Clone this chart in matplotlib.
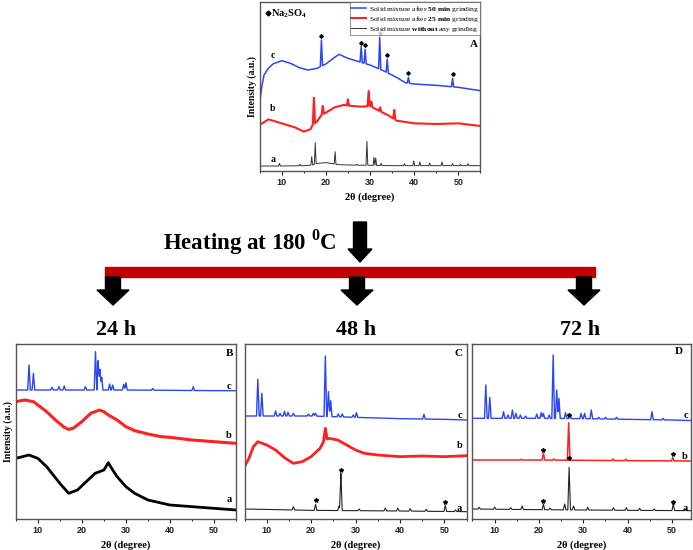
import numpy as np
import matplotlib
matplotlib.use('Agg')
import matplotlib.pyplot as plt
from matplotlib.patches import Polygon, Rectangle
from matplotlib.ticker import MultipleLocator

plt.rcParams['font.family'] = ['Liberation Serif', 'DejaVu Serif']
plt.rcParams['mathtext.fontset'] = 'custom'
plt.rcParams['mathtext.rm'] = 'Liberation Serif'
plt.rcParams['mathtext.bf'] = 'Liberation Serif:bold'

# ---- panel A : solid mixtures before heating (intensity a.u.) ----
A_c_bg_x = [5, 5.5, 6, 7, 8, 10, 12, 14, 16, 18, 20, 22, 23, 25, 27, 30, 33, 36, 38, 40, 45, 50, 55]
A_c_bg_y = [290, 340, 375, 395, 408, 418, 410, 397, 390, 395, 408, 428, 437, 425, 417, 405, 388, 368, 352, 348, 344, 338, 328]
A_c_pk_x = [19.0, 28.0, 28.9, 32.2, 33.9, 38.7, 48.7]
A_c_pk_y = [480, 460, 452, 488, 422, 368, 365]

A_b_bg_x = [5, 7, 10, 13, 15, 16.5, 17, 18, 19, 20, 22, 24, 26, 28, 30, 32, 34, 36, 40, 45, 50, 55]
A_b_bg_y = [225, 242, 230, 218, 205, 212, 225, 235, 255, 262, 278, 285, 282, 280, 282, 268, 255, 238, 230, 228, 230, 222]
A_b_pk_x = [17.3, 19.3, 25.0, 29.7, 30.3, 32.3, 35.5]
A_b_pk_y = [307, 282, 302, 327, 295, 278, 270]

A_a_bg_x = [5, 10, 15, 17, 18, 20, 21, 23, 25, 30, 35, 40, 45, 50, 55]
A_a_bg_y = [102, 102, 103, 105, 110, 112, 110, 106, 105, 104, 103, 103, 103, 103, 103]
A_a_pk_x = [9.5, 14.1, 16.8, 17.6, 22.1, 27.0, 29.3, 30.9, 31.3, 32.5, 37.8, 39.9, 41.3, 43.5, 46.3, 48.7, 50.5, 52.2]
A_a_pk_y = [110, 107, 130, 172, 145, 107, 176, 128, 126, 110, 109, 117, 114, 111, 114, 109, 107, 109]

# ---- panel B : 24 h ----
B_c_bg_x = [5, 10, 20, 30, 40, 50, 55]
B_c_bg_y = [420, 420, 420, 420, 419, 418, 418]
B_c_pk_x = [8.0, 9.0, 13.2, 14.8, 16.0, 20.8, 23.1, 23.7, 24.1, 24.5, 26.3, 27.0, 29.5, 30.0, 36.1, 45.3]
B_c_pk_y = [495, 470, 428, 430, 432, 430, 535, 508, 482, 458, 438, 435, 437, 442, 425, 430]

B_b_bg_x = [5, 7, 9, 10, 12, 14, 16, 17, 18, 20, 22, 24, 25, 26, 28, 30, 32, 35, 38, 40, 45, 50, 55]
B_b_bg_y = [385, 390, 385, 375, 355, 330, 308, 302, 305, 325, 350, 360, 355, 345, 330, 310, 298, 288, 280, 278, 270, 265, 260]

B_a_bg_x = [5, 8, 10, 12, 15, 17, 19, 21, 23, 24, 25, 26, 27, 28, 30, 32, 35, 40, 45, 50, 55]
B_a_bg_y = [215, 225, 215, 190, 140, 110, 120, 145, 170, 175, 180, 202, 180, 160, 130, 110, 90, 75, 70, 65, 60]

# ---- panel C : 48 h ----
C_c_bg_x = [5, 10, 20, 30, 40, 50, 55]
C_c_bg_y = [342, 342, 342, 338, 334, 332, 330]
C_c_pk_x = [8.0, 8.9, 12.0, 13.0, 14.0, 14.8, 16.0, 19.4, 20.5, 21.0, 23.2, 23.9, 24.4, 26.1, 27.0, 29.5, 30.2, 45.4]
C_c_pk_y = [452, 410, 357, 350, 356, 353, 350, 348, 350, 350, 522, 415, 388, 348, 348, 345, 352, 347]

C_b_bg_x = [5, 6, 7, 8, 10, 12, 14, 16, 18, 20, 22, 23, 24, 26, 28, 30, 32, 35, 40, 45, 50, 55]
C_b_bg_y = [190, 215, 250, 265, 255, 240, 217, 200, 205, 220, 245, 270, 275, 270, 255, 240, 230, 225, 220, 222, 220, 223]
C_b_pk_x = [23.2]
C_b_pk_y = [305]

C_a_bg_x = [5, 20, 40, 55]
C_a_bg_y = [63, 59, 57, 55]
C_a_pk_x = [16.0, 21.0, 26.3, 26.7, 30.8, 36.7, 39.5, 42.3, 45.9, 50.2, 52.5]
C_a_pk_y = [70, 77, 72, 170, 63, 66, 66, 64, 62, 74, 60]
C_star_x = [21.0, 26.7, 50.2]
C_star_y = [90, 180, 85]

# ---- panel D : 72 h ----
D_c_bg_x = [5, 10, 20, 30, 40, 50, 55]
D_c_bg_y = [335, 335, 335, 334, 332, 330, 328]
D_c_pk_x = [8.0, 8.9, 12.0, 13.0, 14.0, 14.8, 15.8, 17.0, 19.5, 20.5, 21.0, 22.3, 23.2, 24.0, 24.5,
            26.0, 27.0, 29.5, 30.3, 31.8, 33.5, 35.0, 37.5, 45.5, 48.0]
D_c_pk_y = [435, 398, 355, 345, 360, 350, 345, 342, 348, 352, 350, 345, 525, 420, 395,
            352, 345, 350, 350, 360, 338, 338, 338, 355, 335]

D_b_bg_x = [5, 20, 40, 55]
D_b_bg_y = [210, 210, 208, 207]
D_b_pk_x = [16.0, 21.0, 23.4, 26.7, 36.7, 39.6, 50.2]
D_b_pk_y = [212, 230, 213, 322, 213, 212, 217]
D_b_star_x = [21.0, 26.7, 50.2]
D_b_star_y = [240, 344, 228]

D_a_bg_x = [5, 20, 40, 55]
D_a_bg_y = [63, 61, 59, 58]
D_a_pk_x = [6.5, 10.0, 13.6, 16.2, 21.0, 22.5, 25.8, 26.8, 27.8, 31.0, 36.8, 39.7, 42.7, 46.0, 50.3, 53.0]
D_a_pk_y = [68, 68, 67, 72, 78, 66, 78, 188, 72, 68, 67, 67, 65, 63, 78, 62]
D_a_star_x = [21.0, 26.8, 50.3]
D_a_star_y = [88, 217, 85]

BLUE = '#2b46f5'
RED = '#ff2020'
BLACK = '#000000'
W, H = 693, 550


def pattern(bg_x, bg_y, pk_x=(), pk_y=(), w=0.3):
    # background points plus a sharp triangular peak for each reflection
    pts = set(bg_x)
    for p in pk_x:
        pts.update([p - w, p, p + w])
    xs = np.array(sorted(pts))
    ys = np.interp(xs, bg_x, bg_y)
    for p, top in zip(pk_x, pk_y):
        h = top - np.interp(p, bg_x, bg_y)
        ys = ys + np.clip(h * (1 - np.abs(xs - p) / w), 0, None)
    return xs, ys


def panel(rect_px, xmax=55):
    l, t, r, b = rect_px
    ax = fig.add_axes([l / W, (H - b) / H, (r - l) / W, (b - t) / H])
    ax.set_xlim(5, xmax)
    ax.set_xticks([10, 20, 30, 40, 50])
    ax.xaxis.set_minor_locator(MultipleLocator(5))
    ax.set_yticks([])
    ax.tick_params(axis='x', which='major', direction='out', length=3, width=0.8, pad=2,
                   labelsize=6.5, colors='#222222')
    ax.tick_params(axis='x', which='minor', direction='out', length=1.5, width=0.6)
    for lab in ax.get_xticklabels():
        lab.set_family(['Liberation Sans Narrow', 'Liberation Sans'])
        lab.set_fontweight('bold')
    for s in ax.spines.values():
        s.set_color('#555555')
        s.set_linewidth(1.0)
    ax.set_xlabel('2θ (degree)', fontsize=7.5, fontweight='bold', labelpad=4)
    return ax


fig = plt.figure(figsize=(W / 100, H / 100), dpi=100)

# ---------------- panel A ----------------
axA = panel((259.6, 2, 480.4, 171))
axA.set_ylim(87, 594)
axA.plot(*pattern(A_c_bg_x, A_c_bg_y, A_c_pk_x, A_c_pk_y, 0.25), color=BLUE, lw=1.1,
         label=r'Solid mixture after $\mathbf{50\ min}$ grinding')
axA.plot(*pattern(A_b_bg_x, A_b_bg_y, A_b_pk_x, A_b_pk_y, 0.25), color=RED, lw=1.5,
         label=r'Solid mixture after $\mathbf{25\ min}$ grinding')
axA.plot(*pattern(A_a_bg_x, A_a_bg_y, A_a_pk_x, A_a_pk_y, 0.2), color='#333333', lw=0.7,
         label=r'Solid mixture $\mathbf{without}$ any grinding')
axA.plot(A_c_pk_x, np.array(A_c_pk_y) + 12, ls='none', marker='D', ms=1.8, color='k')
axA.plot([6.9], [560], ls='none', marker='D', ms=2.5, color='k')
axA.text(7.6, 560, r'$\mathbf{Na_2SO_4}$', fontsize=7.5, va='center')
axA.text(7.4, 435, 'c', fontsize=7, fontweight='bold', va='center')
axA.text(7.4, 275, 'b', fontsize=7, fontweight='bold', va='center')
axA.text(7.4, 122, 'a', fontsize=7, fontweight='bold', va='center')
axA.text(54.4, 466, 'A', fontsize=8, fontweight='bold', ha='right', va='center')
axA.set_ylabel('Intensity (a.u.)', fontsize=7, fontweight='bold', labelpad=2)
leg = axA.legend(loc='upper right', bbox_to_anchor=(1.0, 1.0), fontsize=5.4, frameon=True,
                 fancybox=False, borderpad=0.2, labelspacing=0.08, handlelength=2.0,
                 handletextpad=0.3, borderaxespad=0)
leg.get_frame().set_edgecolor('#666666')
leg.get_frame().set_linewidth(0.6)

# ---------------- panel B ----------------
axB = panel((15.8, 344, 236, 519))
axB.set_ylim(33, 558)
axB.plot(*pattern(B_c_bg_x, B_c_bg_y, B_c_pk_x, B_c_pk_y), color=BLUE, lw=1.0)
axB.plot(*pattern(B_b_bg_x, B_b_bg_y), color=RED, lw=2.2)
axB.plot(*pattern(B_a_bg_x, B_a_bg_y), color=BLACK, lw=2.0)
axB.text(54.0, 430, 'c', fontsize=7.5, fontweight='bold', ha='right', va='center')
axB.text(54.0, 282, 'b', fontsize=7.5, fontweight='bold', ha='right', va='center')
axB.text(54.0, 90, 'a', fontsize=7.5, fontweight='bold', ha='right', va='center')
axB.text(54.3, 530, 'B', fontsize=8, fontweight='bold', ha='right', va='center')
axB.set_ylabel('Intensity (a.u.)', fontsize=7, fontweight='bold', labelpad=2)

# ---------------- panel C ----------------
axC = panel((244.5, 344, 466.6, 519))
axC.set_ylim(33, 558)
axC.plot(*pattern(C_c_bg_x, C_c_bg_y, C_c_pk_x, C_c_pk_y), color=BLUE, lw=1.0)
axC.plot(*pattern(C_b_bg_x, C_b_bg_y, C_b_pk_x, C_b_pk_y, 0.4), color=RED, lw=2.0)
axC.plot(*pattern(C_a_bg_x, C_a_bg_y, C_a_pk_x, C_a_pk_y, 0.3), color='#222222', lw=0.8)
axC.plot(C_star_x, C_star_y, ls='none', marker='*', ms=3.0, color='k')
axC.text(54.0, 345, 'c', fontsize=7.5, fontweight='bold', ha='right', va='center')
axC.text(54.0, 253, 'b', fontsize=7.5, fontweight='bold', ha='right', va='center')
axC.text(54.0, 65, 'a', fontsize=7.5, fontweight='bold', ha='right', va='center')
axC.text(54.0, 530, 'C', fontsize=8, fontweight='bold', ha='right', va='center')

# ---------------- panel D ----------------
axD = panel((472.5, 344, 691, 519), xmax=54.3)
axD.set_ylim(33, 558)
axD.plot(*pattern(D_c_bg_x, D_c_bg_y, D_c_pk_x, D_c_pk_y), color=BLUE, lw=1.0)
axD.plot(*pattern(D_b_bg_x, D_b_bg_y, D_b_pk_x, D_b_pk_y, 0.3), color=RED, lw=1.1)
axD.plot(*pattern(D_a_bg_x, D_a_bg_y, D_a_pk_x, D_a_pk_y, 0.3), color='#222222', lw=0.8)
axD.plot(D_b_star_x, D_b_star_y, ls='none', marker='*', ms=3.0, color='k')
axD.plot(D_a_star_x, D_a_star_y, ls='none', marker='*', ms=3.0, color='k')
axD.text(53.6, 345, 'c', fontsize=7.5, fontweight='bold', ha='right', va='center')
axD.text(53.6, 220, 'b', fontsize=7.5, fontweight='bold', ha='right', va='center')
axD.text(53.6, 65, 'a', fontsize=7.5, fontweight='bold', ha='right', va='center')
axD.text(51.5, 535, 'D', fontsize=8, fontweight='bold', ha='center', va='center')

# ---------------- heating scheme (pixel coordinates) ----------------
ov = fig.add_axes([0, 0, 1, 1], zorder=-1)
ov.set_xlim(0, W)
ov.set_ylim(H, 0)
ov.axis('off')


def down_arrow(cx, y0, y1, sw, hw, hl):
    pts = [(cx - sw, y0), (cx + sw, y0), (cx + sw, y1 - hl), (cx + hw, y1 - hl),
           (cx, y1), (cx - hw, y1 - hl), (cx - sw, y1 - hl)]
    ov.add_patch(Polygon(pts, closed=True, color='black'))


ov.text(250, 242, r'Heating at 180 $^{\mathbf{0}}$C', fontsize=16.5, fontweight='bold',
        ha='center', va='center')
down_arrow(360, 222, 262, 6.5, 12, 13)
ov.add_patch(Rectangle((105, 267), 490, 10, color='#c00000'))
for cx in (113, 357, 584):
    down_arrow(cx, 277, 305, 7.5, 16, 15)
for cx, lab in ((116, '24 h'), (356, '48 h'), (580, '72 h')):
    ov.text(cx, 330, lab, fontsize=16, fontweight='bold', ha='center', va='center')

fig.savefig('out.png', dpi=100)
